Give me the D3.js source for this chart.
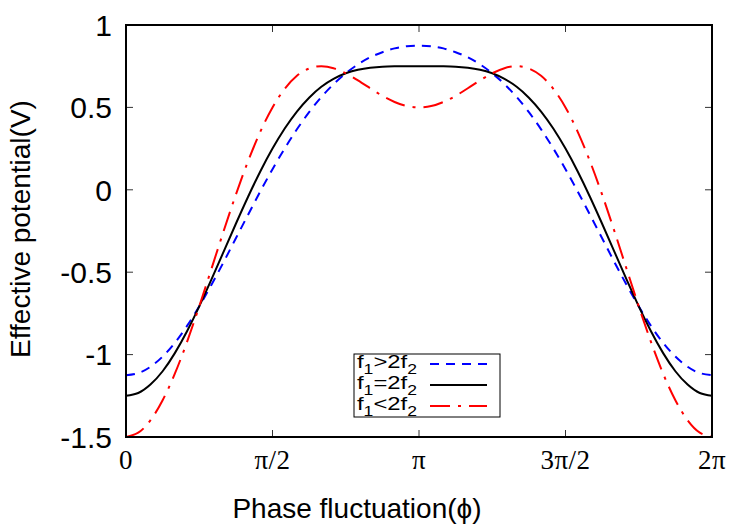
<!DOCTYPE html>
<html>
<head>
<meta charset="utf-8">
<script src="https://cdn.jsdelivr.net/npm/d3@7"></script>
<style>
    body { margin: 0; background: #fff; }
    svg { display: block; }
</style>
</head>
<body>
<svg id="svgPotential" width="750" height="525"></svg>
<script>
// phase in units of pi (0 .. 2pi, step pi/24)
const phase = [0, 0.0417, 0.0833, 0.125, 0.1667, 0.2083, 0.25, 0.2917, 0.3333, 0.375, 0.4167, 0.4583,
    0.5, 0.5417, 0.5833, 0.625, 0.6667, 0.7083, 0.75, 0.7917, 0.8333, 0.875, 0.9167, 0.9583,
    1, 1.0417, 1.0833, 1.125, 1.1667, 1.2083, 1.25, 1.2917, 1.3333, 1.375, 1.4167, 1.4583,
    1.5, 1.5417, 1.5833, 1.625, 1.6667, 1.7083, 1.75, 1.7917, 1.8333, 1.875, 1.9167, 1.9583, 2];

// f1 > 2f2 (blue dashed)
const seriesGreater = [-1.125, -1.112, -1.074, -1.012, -0.929, -0.826, -0.707, -0.576, -0.438, -0.294, -0.151, -0.010,
    0.125, 0.251, 0.367, 0.471, 0.563, 0.641, 0.707, 0.761, 0.804, 0.835, 0.858, 0.871,
    0.875, 0.871, 0.858, 0.835, 0.804, 0.761, 0.707, 0.641, 0.563, 0.471, 0.367, 0.251,
    0.125, -0.010, -0.151, -0.294, -0.438, -0.576, -0.707, -0.826, -0.929, -1.012, -1.074, -1.112, -1.125];

// f1 = 2f2 (black solid)
const seriesEqual = [-1.25, -1.233, -1.182, -1.101, -0.991, -0.858, -0.707, -0.544, -0.375, -0.206, -0.042, 0.111,
    0.25, 0.372, 0.475, 0.559, 0.625, 0.673, 0.707, 0.729, 0.741, 0.747, 0.749, 0.750,
    0.75, 0.750, 0.749, 0.747, 0.741, 0.729, 0.707, 0.673, 0.625, 0.559, 0.475, 0.372,
    0.25, 0.111, -0.042, -0.206, -0.375, -0.544, -0.707, -0.858, -0.991, -1.101, -1.182, -1.233, -1.25];

// f1 < 2f2 (red dash-dot)
const seriesLess = [-1.5, -1.474, -1.399, -1.277, -1.116, -0.923, -0.707, -0.479, -0.25, -0.029, 0.174, 0.352,
    0.5, 0.613, 0.692, 0.736, 0.75, 0.738, 0.707, 0.664, 0.616, 0.570, 0.533, 0.508,
    0.5, 0.508, 0.533, 0.570, 0.616, 0.664, 0.707, 0.738, 0.75, 0.736, 0.692, 0.613,
    0.5, 0.352, 0.174, -0.029, -0.25, -0.479, -0.707, -0.923, -1.116, -1.277, -1.399, -1.474, -1.5];

const xTickValues = [0, 0.5, 1, 1.5, 2];
const xTickLabels = ["0", "π/2", "π", "3π/2", "2π"];
const yTickValues = [1, 0.5, 0, -0.5, -1, -1.5];
const yTickLabels = ["1", "0.5", "0", "-0.5", "-1", "-1.5"];

const legendLabels = [
    { main: "f", sub1: "1", op: ">2f", sub2: "2" },
    { main: "f", sub1: "1", op: "=2f", sub2: "2" },
    { main: "f", sub1: "1", op: "<2f", sub2: "2" }
];

const seriesList = [
    { values: seriesGreater, color: "#0000ff", dash: "9,7" },
    { values: seriesEqual, color: "#000000", dash: null },
    { values: seriesLess, color: "#ff0000", dash: "20,8,3,8" }
];

const svg = d3.select("#svgPotential");
const margin = { top: 25, right: 38, bottom: 88, left: 126 };
const width = 750 - margin.left - margin.right;
const height = 525 - margin.top - margin.bottom;

const x = d3.scaleLinear().domain([0, 2]).range([0, width]);
const y = d3.scaleLinear().domain([-1.5, 1]).range([height, 0]);

const g = svg.append("g")
    .attr("transform", `translate(${margin.left},${margin.top})`);

g.append("clipPath").attr("id", "plotClip")
    .append("rect")
    .attr("x", 0).attr("y", -2)
    .attr("width", width).attr("height", height + 2);

// ticks (inward, mirrored on all four sides)
const tickLen = 7;
yTickValues.forEach(v => {
    g.append("line").attr("x1", 0).attr("x2", tickLen).attr("y1", y(v)).attr("y2", y(v))
        .attr("stroke", "#333").attr("stroke-width", 1);
    g.append("line").attr("x1", width - tickLen).attr("x2", width).attr("y1", y(v)).attr("y2", y(v))
        .attr("stroke", "#333").attr("stroke-width", 1);
});
xTickValues.forEach(v => {
    g.append("line").attr("x1", x(v)).attr("x2", x(v)).attr("y1", height).attr("y2", height - tickLen)
        .attr("stroke", "#333").attr("stroke-width", 1);
    g.append("line").attr("x1", x(v)).attr("x2", x(v)).attr("y1", 0).attr("y2", tickLen)
        .attr("stroke", "#333").attr("stroke-width", 1);
});

// tick labels
g.selectAll(".ytick")
    .data(yTickValues)
    .enter().append("text")
    .attr("class", "ytick")
    .attr("x", -14)
    .attr("y", d => y(d))
    .attr("dy", "0.36em")
    .attr("text-anchor", "end")
    .style("font", "30px 'Liberation Sans', Arial, sans-serif")
    .text((d, i) => yTickLabels[i]);

g.selectAll(".xtick")
    .data(xTickValues)
    .enter().append("text")
    .attr("class", "xtick")
    .attr("x", d => x(d))
    .attr("y", height + 32)
    .attr("text-anchor", "middle")
    .style("font", "27px 'Liberation Serif', 'Times New Roman', serif")
    .style("letter-spacing", "0.5px")
    .text((d, i) => xTickLabels[i]);

// curves
const line = d3.line()
    .x((d, i) => x(phase[i]))
    .y(d => y(d))
    .curve(d3.curveNatural);

seriesList.forEach(s => {
    g.append("path")
        .datum(s.values)
        .attr("d", line)
        .attr("clip-path", "url(#plotClip)")
        .attr("fill", "none")
        .attr("stroke", s.color)
        .attr("stroke-width", 2)
        .attr("stroke-dasharray", s.dash);
});

// legend
const legendX = 354 - margin.left;
const legendY = 354 - margin.top;
g.append("rect")
    .attr("x", legendX).attr("y", legendY)
    .attr("width", 146).attr("height", 63)
    .attr("fill", "#fff")
    .attr("stroke", "#000").attr("stroke-width", 1);

const legend = g.selectAll(".legend")
    .data(seriesList)
    .enter().append("g")
    .attr("class", "legend")
    .attr("transform", (d, i) => `translate(${legendX},${legendY + 10 + i * 21})`);

legend.append("line")
    .attr("x1", 76).attr("x2", 133)
    .attr("y1", 0).attr("y2", 0)
    .attr("stroke", d => d.color)
    .attr("stroke-width", 2)
    .attr("stroke-dasharray", d => d.dash);

const legendText = legend.append("text")
    .attr("x", 3)
    .attr("y", 4)
    .attr("textLength", 60)
    .attr("lengthAdjust", "spacingAndGlyphs")
    .style("font", "19px 'Liberation Sans', Arial, sans-serif");

legendText.each(function (d, i) {
    const t = d3.select(this);
    const lab = legendLabels[i];
    t.append("tspan").text(lab.main);
    t.append("tspan").attr("dy", 6).style("font-size", "14px").text(lab.sub1);
    t.append("tspan").attr("dy", -6).text(lab.op);
    t.append("tspan").attr("dy", 6).style("font-size", "14px").text(lab.sub2);
});

// frame
g.append("rect")
    .attr("x", 0).attr("y", 0)
    .attr("width", width).attr("height", height)
    .attr("fill", "none")
    .attr("stroke", "#000").attr("stroke-width", 2);

// axis titles
svg.append("text")
    .attr("transform", "translate(30,229) rotate(-90)")
    .attr("text-anchor", "middle")
    .style("font", "28px 'Liberation Sans', Arial, sans-serif")
    .text("Effective potential(V)");

svg.append("text")
    .attr("x", 357)
    .attr("y", 518)
    .attr("text-anchor", "middle")
    .style("font", "28px 'Liberation Sans', Arial, sans-serif")
    .text("Phase fluctuation(ϕ)");
</script>
</body>
</html>
